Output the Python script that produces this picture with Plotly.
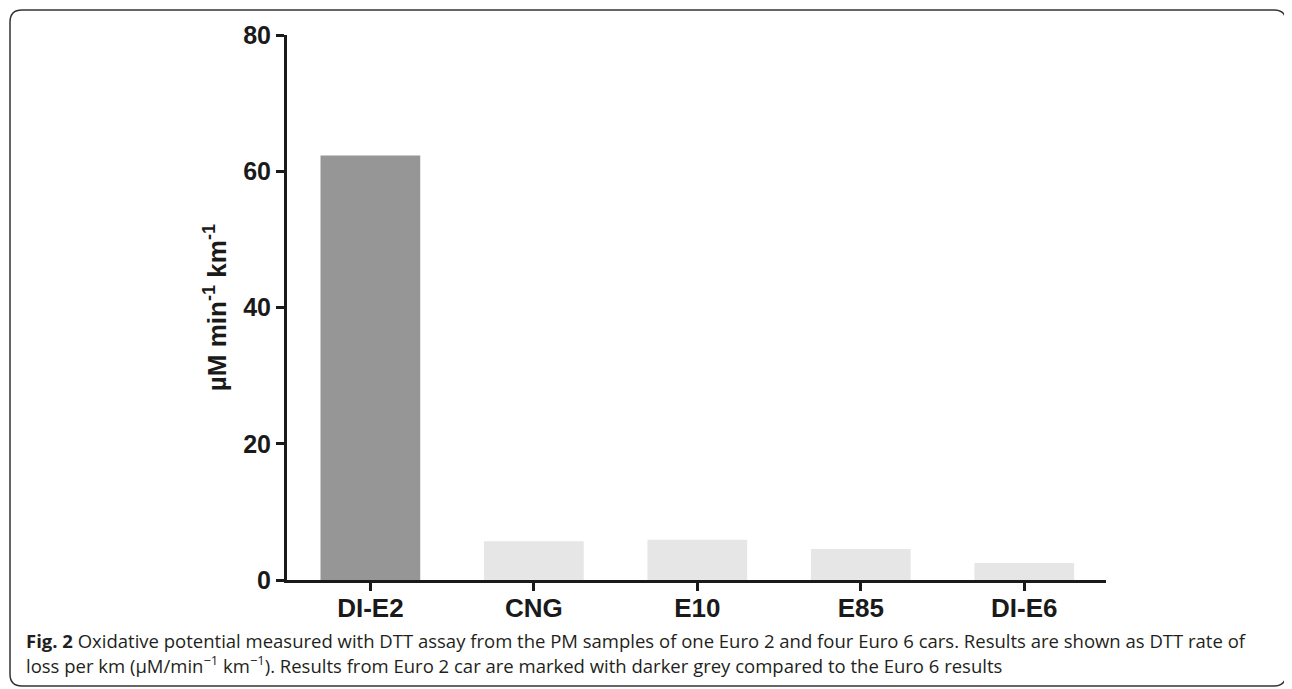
import plotly.graph_objects as go

categories = ["DI-E2", "CNG", "E10", "E85", "DI-E6"]
values = [62.3, 5.7, 5.9, 4.55, 2.5]
bar_colors = ["#969696", "#e6e6e6", "#e6e6e6", "#e6e6e6", "#e6e6e6"]
y_ticks = [0, 20, 40, 60, 80]

OFF = 8  # page body margin
W, H = 1292 - OFF, 689 - OFF
L, R, T, B = 287 - OFF, 1106 - OFF, 35 - OFF, 580 - OFF

def px(x):
    return (x - OFF - L) / (R - L)

def py(y):
    return (B - (y - OFF)) / (B - T)

fig = go.Figure()
fig.add_trace(go.Bar(x=list(range(len(categories))), y=values,
                     marker=dict(color=bar_colors, line=dict(width=0)),
                     width=0.61, showlegend=False))

fig.update_layout(
    width=W, height=H,
    margin=dict(l=L, r=W - R, t=T, b=H - B, pad=0),
    plot_bgcolor="white", paper_bgcolor="white",
    font=dict(family="Liberation Sans", color="#1a1a1a"),
    xaxis=dict(
        tickmode="array", tickvals=list(range(len(categories))), ticktext=categories,
        range=[-0.51, 4.5], showgrid=False, zeroline=False,
        showline=True, linecolor="#1a1a1a", linewidth=3,
        ticks="outside", ticklen=8, tickwidth=3, tickcolor="#1a1a1a",
        ticklabelstandoff=-5,
        tickfont=dict(size=26, weight="bold", family="Liberation Sans"),
    ),
    yaxis=dict(
        range=[0, 80], tickvals=y_ticks, showgrid=False, zeroline=False,
        showline=True, linecolor="#1a1a1a", linewidth=3,
        ticks="outside", ticklen=8, tickwidth=3, tickcolor="#1a1a1a",
        tickfont=dict(size=25, weight="bold", family="Liberation Sans"),
        title=dict(text="µM min<sup>-1</sup> km<sup>-1</sup>", standoff=10,
                   font=dict(size=26, weight="bold", family="Liberation Sans")),
    ),
)

# rounded border frame
x0, y0, x1, y1, r = 10, 10, 1286, 686, 12
path = (f"M {px(x0)},{py(y0 + r)} Q {px(x0)},{py(y0)} {px(x0 + r)},{py(y0)} "
        f"L {px(x1 - r)},{py(y0)} Q {px(x1)},{py(y0)} {px(x1)},{py(y0 + r)} "
        f"L {px(x1)},{py(y1 - r)} Q {px(x1)},{py(y1)} {px(x1 - r)},{py(y1)} "
        f"L {px(x0 + r)},{py(y1)} Q {px(x0)},{py(y1)} {px(x0)},{py(y1 - r)} Z")
fig.add_shape(type="path", path=path, xref="paper", yref="paper",
              line=dict(color="#333333", width=1.5), layer="above")

caption1 = ("<b>Fig. 2</b> Oxidative potential measured with DTT assay from the PM samples of one Euro 2 "
            "and four Euro 6 cars. Results are shown as DTT rate of")
caption2 = ("loss per km (μM/min<sup>−1</sup> km<sup>−1</sup>). Results from Euro 2 car are marked with "
            "darker grey compared to the Euro 6 results")
for txt, yy in [(caption1, 640), (caption2, 664)]:
    fig.add_annotation(text=txt, xref="paper", yref="paper", x=px(24), y=py(yy),
                       xanchor="left", yanchor="middle", showarrow=False,
                       font=dict(family="Open Sans", size=18.5, color="#231f20"))

fig.write_html("out.html")
